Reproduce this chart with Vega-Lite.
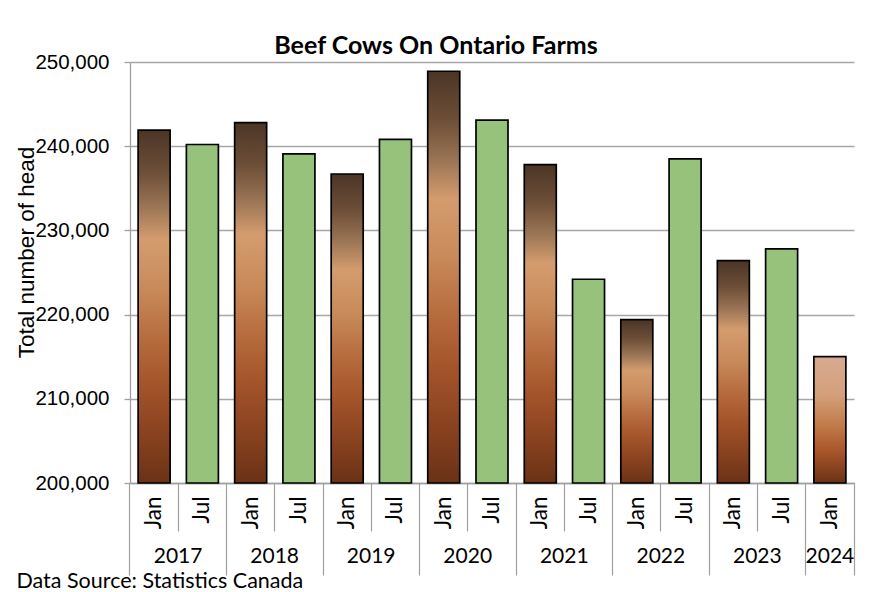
{
  "$schema": "https://vega.github.io/schema/vega-lite/v6.json",
  "width": 724,
  "height": 421,
  "autosize": {"type": "none"},
  "padding": {"left": 130, "top": 62, "right": 21, "bottom": 109},
  "background": "white",
  "title": {
    "text": "Beef Cows On Ontario Farms",
    "font": "Lato",
    "fontWeight": "bold",
    "fontSize": 25,
    "color": "black",
    "anchor": "middle",
    "frame": "group",
    "dx": -56,
    "dy": 35,
    "baseline": "alphabetic",
    "offset": 8
  },
  "data": {
    "values": [
      {"key": "2017 Jan", "year": "2017", "month": "Jan", "head": 241900},
      {"key": "2017 Jul", "year": "2017", "month": "Jul", "head": 240200},
      {"key": "2018 Jan", "year": "2018", "month": "Jan", "head": 242800},
      {"key": "2018 Jul", "year": "2018", "month": "Jul", "head": 239100},
      {"key": "2019 Jan", "year": "2019", "month": "Jan", "head": 236700},
      {"key": "2019 Jul", "year": "2019", "month": "Jul", "head": 240800},
      {"key": "2020 Jan", "year": "2020", "month": "Jan", "head": 248900},
      {"key": "2020 Jul", "year": "2020", "month": "Jul", "head": 243100},
      {"key": "2021 Jan", "year": "2021", "month": "Jan", "head": 237800},
      {"key": "2021 Jul", "year": "2021", "month": "Jul", "head": 224200},
      {"key": "2022 Jan", "year": "2022", "month": "Jan", "head": 219400},
      {"key": "2022 Jul", "year": "2022", "month": "Jul", "head": 238500},
      {"key": "2023 Jan", "year": "2023", "month": "Jan", "head": 226400},
      {"key": "2023 Jul", "year": "2023", "month": "Jul", "head": 227800},
      {"key": "2024 Jan", "year": "2024", "month": "Jan", "head": 215000}
    ]
  },
  "resolve": {"axis": {"x": "independent"}},
  "config": {
    "view": {"stroke": null},
    "axisY": {
      "domainColor": "#a0a0a0",
      "domainWidth": 1.3,
      "tickColor": "#a0a0a0",
      "tickSize": 6,
      "tickWidth": 1.3,
      "gridColor": "#a6a6a6",
      "gridWidth": 1.3,
      "labelFont": "Liberation Sans",
      "labelFontSize": 20.5,
      "labelColor": "black",
      "labelPadding": 15
    }
  },
  "layer": [
    {
      "transform": [{"filter": "datum.month == 'Jan' && datum.year != '2024'"}],
      "mark": {
        "type": "bar",
        "stroke": "black",
        "strokeWidth": 1.7,
        "color": {
          "gradient": "linear",
          "x1": 0, "y1": 0, "x2": 0, "y2": 1,
          "stops": [
            {"offset": 0, "color": "#4b3526"},
            {"offset": 0.12, "color": "#6e4f38"},
            {"offset": 0.22, "color": "#9c7656"},
            {"offset": 0.31, "color": "#d49c6e"},
            {"offset": 0.45, "color": "#c98a5a"},
            {"offset": 0.6, "color": "#b56a3c"},
            {"offset": 0.72, "color": "#a4542a"},
            {"offset": 0.88, "color": "#85401e"},
            {"offset": 1, "color": "#6a3216"}
          ]
        }
      },
      "encoding": {
        "x": {
          "field": "key",
          "type": "nominal",
          "scale": {
            "domain": ["2017 Jan", "2017 Jul", "2018 Jan", "2018 Jul", "2019 Jan", "2019 Jul", "2020 Jan", "2020 Jul", "2021 Jan", "2021 Jul", "2022 Jan", "2022 Jul", "2023 Jan", "2023 Jul", "2024 Jan"],
            "paddingInner": 0.337,
            "paddingOuter": 0.168
          },
          "axis": {
            "orient": "bottom",
            "title": null,
            "labelExpr": "split(datum.value, ' ')[1]",
            "labelAngle": 270,
            "labelFont": "Lato",
            "labelFontSize": 22.5,
            "labelColor": "black",
            "labelAlign": "right",
            "labelBaseline": "middle",
            "labelOffset": 0,
            "labelPadding": {"condition": {"test": "indexof(datum.value, 'Jan') >= 0", "value": -79}, "value": -35},
            "bandPosition": -0.254,
            "tickColor": "#a0a0a0",
            "tickWidth": 1.2,
            "tickSize": {"condition": {"test": "indexof(datum.value, 'Jan') >= 0", "value": 92}, "value": 48},
            "domainColor": "#a0a0a0",
            "domainWidth": 1.3,
            "grid": false
          }
        },
        "y": {
          "field": "head",
          "type": "quantitative",
          "scale": {"domain": [200000, 250000], "zero": false, "nice": false},
          "axis": {
            "values": [200000, 210000, 220000, 230000, 240000, 250000],
            "format": ",d",
            "title": "Total number of head",
            "titleFont": "Liberation Sans",
            "titleFontSize": 22.5,
            "titleFontWeight": "normal",
            "titleColor": "black",
            "titleAngle": 270,
            "titleAlign": "center",
            "titleBaseline": "middle",
            "titleX": -104,
            "titleY": 190
          }
        },
        "y2": {"datum": 200000}
      }
    },
    {
      "transform": [{"filter": "datum.month == 'Jul'"}],
      "mark": {"type": "bar", "stroke": "black", "strokeWidth": 1.7, "color": "#97c27b"},
      "encoding": {
        "x": {
          "field": "key",
          "type": "nominal",
          "axis": {
            "orient": "bottom",
            "bandPosition": 1.254,
            "labelExpr": "indexof(datum.value, 'Jan') >= 0 ? split(datum.value, ' ')[0] : ''",
            "labelOffset": {"condition": {"test": "datum.value == '2024 Jan'", "value": 0}, "value": 24},
            "labelAngle": 0,
            "labelFont": "Lato",
            "labelFontSize": 21,
            "labelColor": "black",
            "labelAlign": "center",
            "labelBaseline": "alphabetic",
            "labelPadding": -13,
            "ticks": true,
            "tickSize": 92,
            "tickColor": "#a0a0a0",
            "tickWidth": 1.2,
            "tickOpacity": {"condition": {"test": "datum.value == '2024 Jan'", "value": 1}, "value": 0},
            "domain": false,
            "grid": false,
            "title": "Data Source: Statistics Canada",
            "titleFont": "Lato",
            "titleFontSize": 21.5,
            "titleFontWeight": "normal",
            "titleColor": "black",
            "titleAnchor": "start",
            "titleAlign": "left",
            "titleBaseline": "alphabetic",
            "titleX": -114,
            "titleY": 104
          }
        },
        "y": {"field": "head", "type": "quantitative"},
        "y2": {"datum": 200000}
      }
    },
    {
      "transform": [{"filter": "datum.year == '2024'"}],
      "mark": {
        "type": "bar",
        "stroke": "black",
        "strokeWidth": 1.7,
        "color": {
          "gradient": "linear",
          "x1": 0, "y1": 0, "x2": 0, "y2": 1,
          "stops": [
            {"offset": 0, "color": "#d8aa92"},
            {"offset": 0.3, "color": "#d4a07a"},
            {"offset": 0.55, "color": "#c07a48"},
            {"offset": 0.75, "color": "#a8552a"},
            {"offset": 1, "color": "#6a3216"}
          ]
        }
      },
      "encoding": {
        "x": {"field": "key", "type": "nominal", "axis": null},
        "y": {"field": "head", "type": "quantitative"},
        "y2": {"datum": 200000}
      }
    }
  ]
}
